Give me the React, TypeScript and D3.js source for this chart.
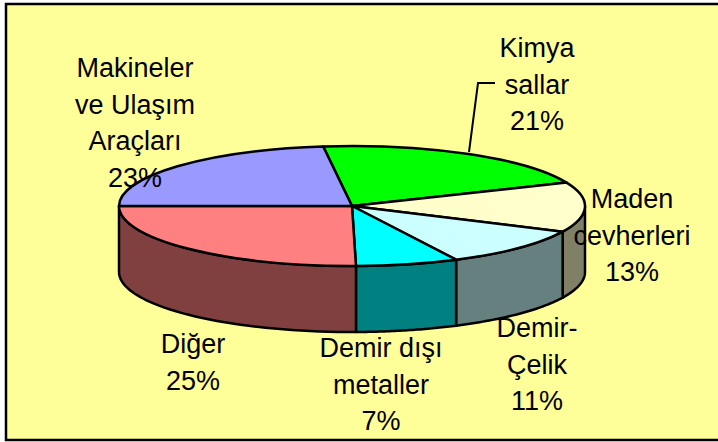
import React from "react";
import * as d3 from "d3";

const categories = ["Kimyasallar", "Maden cevherleri", "Demir-Çelik", "Demir dışı metaller", "Diğer", "Makineler ve Ulaşım Araçları"];
const shares = [20.6, 13.4, 10.6, 7.1, 25.3, 23];
const topColors = ["#00ff00", "#ffffcc", "#ccffff", "#00ffff", "#ff8080", "#9999ff"];
const sideColors = ["#008000", "#808066", "#668080", "#008080", "#804040", "#4d4d80"];
const labelLines = [
  ["Kimya", "sallar"],
  ["Maden", "cevherleri"],
  ["Demir-", "Çelik"],
  ["Demir dışı", "metaller"],
  ["Diğer"],
  ["Makineler", "ve Ulaşım", "Araçları"],
];

const width = 718;
const height = 442;
const cx = 352;
const cy = 206;
const rx = 233;
const ry = 60;
const depth = 66;
const lineW = 2.5;

// unit circle -> screen ellipse
const xScale = d3.scaleLinear().domain([-1, 1]).range([cx - rx, cx + rx]);
const yScale = d3.scaleLinear().domain([-1, 1]).range([cy - ry, cy + ry]);

const labelPos = [
  { x: 537, y: 57 },
  { x: 632, y: 208 },
  { x: 537, y: 337 },
  { x: 381, y: 357 },
  { x: 193, y: 353 },
  { x: 135, y: 77 },
];

export default function App() {
  const pie = d3
    .pie<number>()
    .sort(null)
    .startAngle((-7.1 * Math.PI) / 180)
    .endAngle(((360 - 7.1) * Math.PI) / 180);
  const arcs = pie(shares);

  const arc = d3
    .arc<d3.PieArcDatum<number>>()
    .innerRadius(0)
    .outerRadius(rx);

  const rimX = (a: number) => xScale(Math.sin(a));
  const rimY = (a: number) => yScale(-Math.cos(a));

  // side wall only for the part of a slice on the near half of the ellipse
  const wallPath = (start: number, end: number) => {
    const a0 = Math.max(start, Math.PI / 2);
    const a1 = Math.min(end, (3 * Math.PI) / 2);
    if (a1 <= a0) return null;
    const steps = d3.range(0, 41).map((i) => a0 + ((a1 - a0) * i) / 40);
    const pts: [number, number][] = [
      ...steps.map((a): [number, number] => [rimX(a), rimY(a)]),
      ...steps.reverse().map((a): [number, number] => [rimX(a), rimY(a) + depth]),
    ];
    return d3.line()(pts) + "Z";
  };

  return (
    <svg
      width={width}
      height={height}
      style={{ position: "absolute", left: 0, top: 0, fontFamily: "'Liberation Sans', Arial, sans-serif" }}
    >
      <rect x={6} y={4} width={width + 10} height={436} fill="#ffff99" stroke="#000" strokeWidth={lineW} />

      {arcs.map((d, i) => {
        const p = wallPath(d.startAngle, d.endAngle);
        return p ? <path key={i} d={p} fill={sideColors[i]} stroke="#000" strokeWidth={lineW} strokeLinejoin="round" /> : null;
      })}

      <g transform={`translate(${cx},${cy}) scale(1,${ry / rx})`}>
        {arcs.map((d, i) => (
          <path
            key={categories[i]}
            d={arc(d) as string}
            fill={topColors[i]}
            stroke="#000"
            strokeWidth={lineW}
            vectorEffect="non-scaling-stroke"
            strokeLinejoin="round"
          />
        ))}
      </g>

      <polyline points="469,152 478,83 495,83" fill="none" stroke="#000" strokeWidth={2} />

      {labelLines.map((lines, i) => (
        <text key={i} x={labelPos[i].x} y={labelPos[i].y} textAnchor="middle" fontSize={27} fill="#000">
          {lines.map((l, j) => (
            <tspan key={j} x={labelPos[i].x} dy={j === 0 ? 0 : 36.5}>
              {l}
            </tspan>
          ))}
          <tspan x={labelPos[i].x} dy={36.5}>
            {d3.format(".0f")(shares[i])}%
          </tspan>
        </text>
      ))}
    </svg>
  );
}
